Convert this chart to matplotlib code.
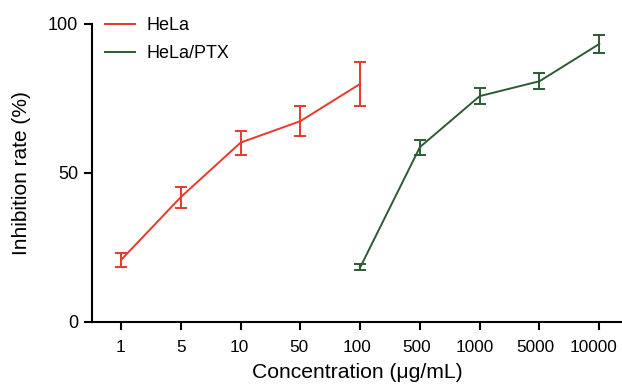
import matplotlib.pyplot as plt
from matplotlib.transforms import ScaledTranslation

plt.rcParams["font.family"] = ["Liberation Sans", "DejaVu Sans"]

# concentrations (categorical, equally spaced)
conc_labels = ["1", "5", "10", "50", "100", "500", "1000", "5000", "10000"]

# HeLa: first five concentrations
hela_idx = [0, 1, 2, 3, 4]
hela_mean = [20.8, 41.9, 60.2, 67.4, 79.9]
hela_err = [2.4, 3.5, 4.0, 5.0, 7.4]

# HeLa/PTX: last five concentrations
ptx_idx = [4, 5, 6, 7, 8]
ptx_mean = [18.3, 58.7, 75.8, 80.8, 93.3]
ptx_err = [1.0, 2.5, 2.8, 2.6, 3.0]

red = "#e8392c"
green = "#2c5b33"

fig = plt.figure(figsize=(6.22, 3.85), dpi=100)
ax = fig.add_axes([92 / 622, 1 - 322 / 385, 530 / 622, 298 / 385])

ax.plot(hela_idx, hela_mean, color=red, lw=1.4, label="HeLa")
ax.errorbar(hela_idx, hela_mean, yerr=hela_err, fmt="none", ecolor=red,
            capsize=4.5, capthick=1.4, elinewidth=1.4)
ax.plot(ptx_idx, ptx_mean, color=green, lw=1.4, label="HeLa/PTX")
ax.errorbar(ptx_idx, ptx_mean, yerr=ptx_err, fmt="none", ecolor=green,
            capsize=4.5, capthick=1.4, elinewidth=1.4)

ax.set_xlim(-0.485, 8.38)
ax.set_ylim(0, 100)
ax.set_yticks([0, 50, 100])
ax.set_xticks(range(len(conc_labels)))
ax.set_xticklabels(conc_labels)

for s in ["top", "right"]:
    ax.spines[s].set_visible(False)
for s in ["left", "bottom"]:
    ax.spines[s].set_linewidth(1.5)
ax.spines["left"].set_bounds(0, 100)

ax.tick_params(axis="both", direction="out", length=6, width=1.5,
               labelsize=12.4, pad=7)
ax.tick_params(axis="y", pad=4, labelsize=13)

# longer x tick labels sit slightly left of their ticks in the original
for lab in ax.get_xticklabels():
    dx = -1.5 * (len(lab.get_text()) - 1) / 100
    lab.set_transform(lab.get_transform() + ScaledTranslation(dx, 0, fig.dpi_scale_trans))

ax.set_xlabel("Concentration (μg/mL)", fontsize=15.2, labelpad=6)
ax.set_ylabel("Inhibition rate (%)", fontsize=15, labelpad=12)

ax.legend(loc="upper left", bbox_to_anchor=(0.0, 1.065), frameon=False,
          fontsize=13, handlelength=1.7, handletextpad=0.6,
          labelspacing=0.62, borderaxespad=0.3)

fig.savefig("out.png", dpi=100)
